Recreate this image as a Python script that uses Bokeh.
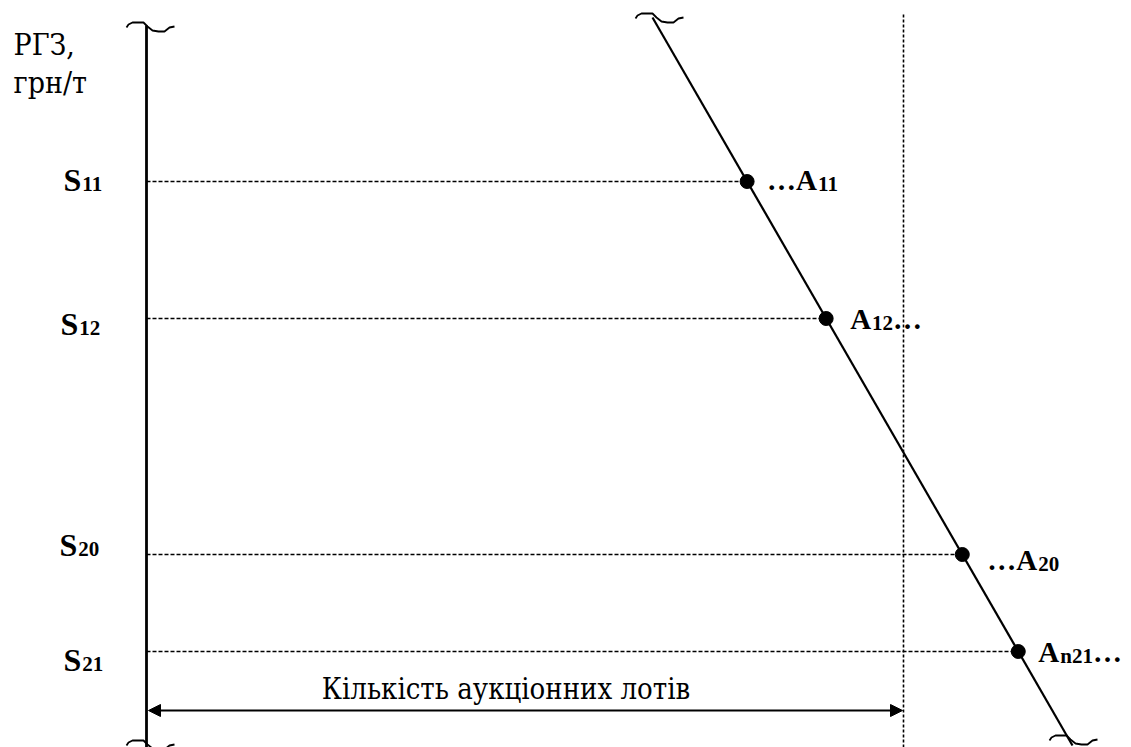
from bokeh.plotting import figure
from bokeh.models import Range1d, Arrow, NormalHead
from bokeh.core.properties import value
from bokeh.embed import file_html
from bokeh.resources import INLINE

# ---------------- data (diagram units; price axis grows downward) ----------------
level_names = ["11", "12", "20", "21"]          # S / A subscripts
level_price = [181, 318, 554, 651]              # price levels S11, S12, S20, S21
a_subs = ["11", "12", "20", "n21"]
a_lead = ["\u2026", "", "\u2026", ""]
a_trail = ["", "\u2026", "", "\u2026"]

demand_top = (652, 17)        # demand line endpoints (quantity, price)
demand_bottom = (1072, 745)
axis_x = 146                  # price axis position
lot_limit_x = 903             # number of auction lots boundary
axis_top = 22
y_title = ["РГЗ,", "грн/т"]
x_title = "Кількість аукціонних лотів"

# ---------------- layout constants ----------------
s_label_x = [63, 60, 59, 63]
s_label_dy = [-2, 5, -10, 8]
a_label_dx = [20, 24, 25, 20]
a_label_dy = [-2, 0, 5, 0]
squig_dx = [-18, -16, -12, -1, 3, 8, 14, 20, 25, 30]
squig_dy = [5, 2, 0, 0, 4, 8, 9, 9, 5, 4]

W, H = 1131, 747
FONT = value("'Liberation Serif', 'Times New Roman', serif")
FONT_CYR = value("'DejaVu Serif Condensed', 'DejaVu Serif', serif")
MAIN = 32
SUB = 21
# Liberation Serif Bold advance widths (em)
ADV = {"S": 0.556, "A": 0.722, "n": 0.556, "\u2026": 1.0}
for d in "0123456789":
    ADV[d] = 0.5


def width(s, size):
    return sum(ADV.get(c, 0.5) for c in s) * size


p = figure(width=W, height=H, x_range=Range1d(0, W), y_range=Range1d(H, 0),
           output_backend="svg", toolbar_location=None, min_border=0,
           x_axis_location=None, y_axis_location=None)
p.grid.visible = False
p.outline_line_color = None
p.background_fill_color = "white"
p.border_fill_color = "white"

# price axis
p.line([axis_x, axis_x], [axis_top + 3, 760], line_color="black", line_width=2.8)
# demand line
p.line([demand_top[0], demand_bottom[0]], [demand_top[1], demand_bottom[1]],
       line_color="black", line_width=2.2)
# lot-limit vertical dashed line
p.line([lot_limit_x, lot_limit_x], [14, 760], line_color="black", line_width=1.6,
       line_dash="3 2")

# break marks (squiggles)
for (bx, by) in [(axis_x - 2, axis_top), (demand_top[0] + 1, demand_top[1] - 4),
                 (axis_x - 2, 740), (demand_bottom[0] - 5, 735)]:
    p.line([bx + d for d in squig_dx], [by + d for d in squig_dy],
           line_color="black", line_width=1.8)

slope = (demand_bottom[0] - demand_top[0]) / (demand_bottom[1] - demand_top[1])
dot_x = [demand_top[0] + slope * (y - demand_top[1]) for y in level_price]

# dashed price levels
for y, dx in zip(level_price, dot_x):
    p.line([axis_x, dx], [y, y], line_color="black", line_width=1.6, line_dash="4 2")

p.scatter(dot_x, level_price, size=14, color="black")

# S labels
sx, sy, subx, suby = [], [], [], []
for i, y in enumerate(level_price):
    bx = s_label_x[i]
    by = y + s_label_dy[i]
    sx.append(bx)
    sy.append(by)
    subx.append(bx + width("S", MAIN) + 1)
    suby.append(by + 4)
p.text(sx, sy, text=["S"] * 4, text_font=FONT, text_font_size=f"{MAIN}px",
       text_font_style="bold", text_baseline="alphabetic", text_align="left")
p.text(subx, suby, text=level_names, text_font=FONT, text_font_size=f"{SUB}px",
       text_font_style="bold", text_baseline="alphabetic", text_align="left")

# A labels
mx, my, mt, ssx, ssy, sst = [], [], [], [], [], []
for i, y in enumerate(level_price):
    x = dot_x[i] + a_label_dx[i]
    by = y + a_label_dy[i]
    if a_lead[i]:
        mx.append(x); my.append(by); mt.append(a_lead[i])
        x += width(a_lead[i], 29)
    mx.append(x); my.append(by); mt.append("A")
    x += width("A", 29) + 1
    ssx.append(x); ssy.append(by + 4); sst.append(a_subs[i])
    x += width(a_subs[i], SUB)
    if a_trail[i]:
        mx.append(x); my.append(by); mt.append(a_trail[i])
p.text(mx, my, text=mt, text_font=FONT, text_font_size="29px",
       text_font_style="bold", text_baseline="alphabetic", text_align="left")
p.text(ssx, ssy, text=sst, text_font=FONT, text_font_size=f"{SUB}px",
       text_font_style="bold", text_baseline="alphabetic", text_align="left")

# axis titles
p.text([13, 13], [44, 82], text=y_title, text_font=FONT_CYR, text_font_size="30px",
       text_baseline="alphabetic", text_align="left")
p.text([(axis_x + lot_limit_x) / 2 - 19], [688], text=[x_title], text_font=FONT_CYR,
       text_font_size="29px", text_baseline="alphabetic", text_align="center")

# double-headed arrow for number of lots
p.add_layout(Arrow(x_start=axis_x + 2, y_start=710, x_end=lot_limit_x - 1, y_end=710,
                   line_color="black", line_width=2,
                   start=NormalHead(size=12, fill_color="black", line_color="black"),
                   end=NormalHead(size=12, fill_color="black", line_color="black")))

open("out.html", "w").write(file_html(p, INLINE))
